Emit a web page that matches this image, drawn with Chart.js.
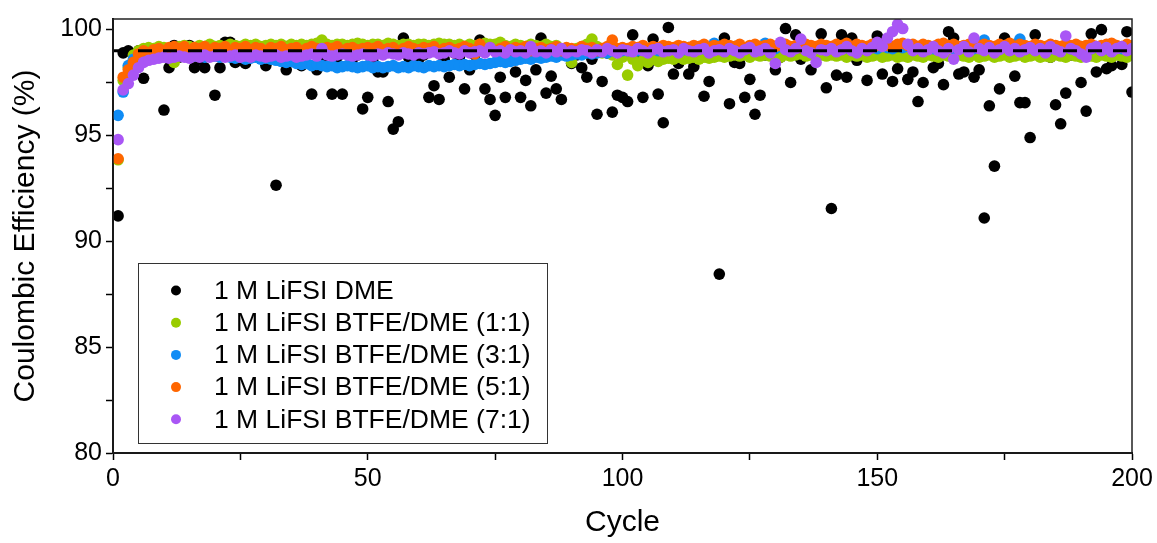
<!DOCTYPE html>
<html>
<head>
<meta charset="utf-8">
<script src="https://cdn.jsdelivr.net/npm/chart.js@4.4.1/dist/chart.umd.min.js"></script>
<style>
  body { margin: 0; background: #fff; }
  #wrap { width: 1157px; height: 543px; }
</style>
</head>
<body>
<div id="wrap"><canvas id="chart" width="1157" height="543"></canvas></div>
<script>
//=============== DATA ===============
const cycles = Array.from({ length: 200 }, (_, i) => i + 1)

const seriesNames = [
  '1 M LiFSI DME',
  '1 M LiFSI BTFE/DME (1:1)',
  '1 M LiFSI BTFE/DME (3:1)',
  '1 M LiFSI BTFE/DME (5:1)',
  '1 M LiFSI BTFE/DME (7:1)'
]
const seriesColors = ['#000000', '#99CC00', '#0F8CF5', '#FF6600', '#A956F5']

const dme = [
  91.2, 98.9, 99.0, 98.8, 99.0, 97.7, 98.9, 99.0, 98.7, 96.2,
  98.2, 99.25, 98.7, 98.9, 99.25, 98.2, 98.6, 98.2, 98.8, 96.9,
  98.2, 99.4, 99.4, 98.45, 98.9, 98.4, 98.7, 98.9, 99.15, 98.3,
  98.8, 92.65, 99.25, 98.1, 98.7, 98.9, 98.3, 98.8, 96.95, 98.1,
  98.6, 98.9, 96.95, 98.7, 96.95, 98.9, 98.6, 98.8, 96.25, 96.8,
  98.5, 98.0, 98.0, 96.6, 95.3, 95.65, 99.6, 98.7, 98.9, 98.6,
  98.8, 96.8, 97.35, 96.7, 98.6, 97.75, 98.9, 98.7, 97.2, 98.1,
  98.8, 99.5, 97.2, 96.7, 95.95, 97.75, 96.8, 98.8, 98.0, 96.8,
  97.6, 96.4, 98.1, 99.6, 97.0, 97.8, 97.2, 96.7, 98.9, 98.4,
  98.8, 98.2, 97.75, 98.6, 96.0, 97.55, 98.9, 96.1, 96.9, 96.8,
  96.6, 99.75, 98.8, 96.8, 98.3, 99.55, 96.95, 95.6, 100.1, 97.9,
  98.4, 98.9, 97.9, 98.25, 98.7, 96.85, 97.55, 98.9, 88.45, 99.6,
  96.5, 98.45, 98.4, 96.8, 97.65, 96.0, 96.9, 98.8, 98.9, 98.1,
  98.7, 100.05, 97.5, 99.75, 98.6, 98.9, 98.1, 98.7, 99.8, 97.25,
  91.55, 97.85, 99.75, 97.75, 99.6, 98.55, 98.9, 97.6, 98.8, 99.7,
  97.9, 98.9, 97.55, 98.15, 98.8, 97.65, 98.0, 96.6, 97.5, 98.9,
  98.2, 98.4, 97.4, 99.9, 99.6, 97.9, 98.0, 98.9, 97.75, 98.1,
  91.1, 96.4, 93.55, 97.2, 99.6, 98.9, 97.8, 96.55, 96.55, 94.9,
  99.75, 98.8, 98.9, 98.7, 96.45, 95.55, 97.0, 98.8, 98.9, 97.5,
  96.15, 99.8, 98.0, 100.0, 98.15, 98.3, 98.9, 98.35, 99.9, 97.05
]

const btfe11 = [
  93.85, 97.6, 98.2, 98.8, 99.0, 99.1, 99.15, 99.1, 99.2, 99.15,
  98.9, 98.45, 99.2, 99.25, 99.2, 99.15, 99.25, 99.2, 99.3, 99.2,
  99.25, 99.2, 99.3, 99.25, 99.2, 99.3, 99.25, 99.3, 99.2, 99.25,
  99.3, 99.25, 99.3, 99.2, 99.3, 99.25, 99.3, 99.25, 99.3, 99.35,
  99.5, 99.3, 99.25, 99.3, 99.3, 99.25, 99.3, 99.35, 99.3, 99.25,
  99.3, 99.3, 99.25, 99.35, 99.3, 99.25, 99.3, 99.3, 99.25, 99.3,
  99.3, 99.25, 99.3, 99.35, 99.3, 99.3, 99.25, 99.3, 99.2, 99.3,
  99.25, 99.3, 99.35, 99.3, 99.3, 99.4, 99.25, 99.2, 99.3, 99.25,
  99.2, 99.3, 99.25, 99.2, 99.3, 99.2, 99.25, 99.1, 98.9, 98.45,
  99.1, 99.2, 99.3, 99.55, 99.2, 98.9, 99.0, 98.8, 98.35, 98.7,
  97.85, 98.6, 98.3, 98.55, 98.45, 98.6, 98.5, 98.6, 98.65, 98.6,
  98.7, 98.6, 98.65, 98.7, 98.6, 98.7, 98.65, 98.7, 98.75, 98.7,
  98.75, 98.8, 98.75, 98.8, 98.7, 98.8, 98.75, 98.8, 98.75, 98.8,
  98.7, 98.8, 98.75, 98.8, 98.85, 98.75, 98.8, 98.7, 98.8, 98.75,
  98.8, 98.75, 98.8, 98.7, 98.8, 98.75, 98.8, 98.7, 98.75, 98.8,
  98.7, 98.75, 98.8, 98.7, 98.75, 98.7, 98.8, 98.75, 98.7, 98.8,
  98.75, 98.7, 98.8, 98.75, 98.7, 98.8, 98.75, 98.7, 98.8, 98.7,
  98.75, 98.8, 98.7, 98.75, 98.8, 98.7, 98.75, 98.8, 98.7, 98.75,
  98.8, 98.7, 98.75, 98.7, 98.8, 98.75, 98.7, 98.8, 98.75, 98.7,
  98.8, 98.75, 98.7, 98.8, 98.75, 98.7, 98.8, 98.75, 98.7, 98.8
]

const btfe31 = [
  95.95, 97.05, 98.3, 98.6, 98.7, 98.8, 98.75, 98.8, 98.85, 98.8,
  98.8, 98.75, 98.8, 98.85, 98.8, 98.75, 98.8, 98.7, 98.8, 98.75,
  98.7, 98.75, 98.7, 98.65, 98.7, 98.6, 98.65, 98.7, 98.6, 98.65,
  98.6, 98.55, 98.5, 98.45, 98.5, 98.4, 98.35, 98.4, 98.3, 98.35,
  98.3, 98.25, 98.3, 98.2, 98.25, 98.3, 98.25, 98.2, 98.25, 98.3,
  98.2, 98.25, 98.2, 98.25, 98.3, 98.2, 98.25, 98.2, 98.3, 98.25,
  98.2, 98.3, 98.25, 98.3, 98.25, 98.3, 98.35, 98.3, 98.35, 98.3,
  98.35, 98.4, 98.35, 98.4, 98.45, 98.5, 98.45, 98.5, 98.55, 98.6,
  98.65, 98.6, 98.7, 98.65, 98.7, 98.75, 98.7, 98.8, 98.75, 98.8,
  98.85, 98.8, 98.9, 98.85, 98.9, 98.95, 98.9, 99.0, 98.95, 99.0,
  99.0, 99.05, 99.0, 99.1, 99.05, 99.1, 99.0, 99.1, 99.05, 99.1,
  99.1, 99.05, 99.15, 99.1, 99.2, 99.1, 99.15, 99.35, 99.1, 99.15,
  99.1, 99.2, 99.15, 99.1, 99.2, 99.15, 99.1, 99.35, 99.15, 99.1,
  99.2, 99.15, 99.1, 99.2, 99.15, 99.1, 99.2, 99.15, 99.2, 99.1,
  99.15, 99.2, 99.1, 99.15, 99.2, 99.1, 99.15, 99.2, 99.15, 99.1,
  99.2, 99.15, 99.1, 99.2, 99.15, 99.2, 99.1, 99.15, 99.2, 99.15,
  99.1, 99.2, 99.15, 99.2, 99.1, 99.15, 99.2, 99.15, 99.1, 99.2,
  99.5, 99.2, 99.1, 99.15, 99.2, 99.15, 99.3, 99.55, 99.2, 99.15,
  99.1, 99.2, 99.15, 99.1, 99.2, 99.15, 99.2, 99.1, 99.15, 99.2,
  99.15, 99.1, 99.2, 99.15, 99.1, 99.2, 99.15, 99.1, 99.2, 99.15
]

const btfe51 = [
  93.9, 97.75, 98.1, 98.45, 98.85, 99.0, 98.9, 99.05, 99.1, 99.0,
  99.15, 99.2, 99.1, 99.2, 99.0, 99.15, 99.1, 99.2, 99.05, 99.15,
  99.1, 99.2, 99.0, 99.15, 99.1, 99.2, 99.05, 99.15, 99.1, 99.0,
  99.15, 99.1, 99.2, 99.05, 99.1, 99.15, 99.0, 99.1, 99.2, 99.1,
  99.05, 99.15, 99.1, 99.2, 99.0, 99.1, 99.15, 99.05, 99.1, 99.15,
  99.1, 99.2, 99.05, 99.1, 99.15, 99.0, 99.1, 99.2, 99.1, 99.05,
  99.15, 99.1, 99.2, 99.0, 99.1, 99.15, 99.05, 99.1, 99.2, 99.1,
  98.85, 99.3, 99.1, 99.15, 99.0, 99.1, 99.2, 99.05, 99.15, 99.1,
  99.2, 99.0, 99.1, 99.15, 99.05, 99.1, 99.2, 99.0, 99.15, 99.1,
  99.05, 99.2, 99.1, 99.15, 99.0, 99.1, 99.2, 99.5, 99.1, 99.15,
  99.1, 99.2, 99.15, 99.25, 99.1, 99.2, 99.15, 99.25, 99.2, 99.15,
  99.25, 99.2, 99.15, 99.25, 99.2, 99.3, 99.15, 99.25, 99.2, 99.3,
  99.25, 99.2, 99.3, 99.15, 99.25, 99.3, 99.2, 99.25, 99.3, 99.2,
  99.25, 99.3, 99.2, 99.25, 99.15, 99.3, 99.25, 99.2, 99.3, 99.25,
  99.2, 99.3, 99.25, 99.35, 99.2, 99.3, 99.25, 99.2, 99.3, 99.25,
  99.3, 99.25, 99.2, 99.3, 99.35, 99.25, 99.3, 99.2, 99.3, 99.25,
  99.2, 99.3, 99.35, 99.25, 99.3, 99.2, 99.25, 99.3, 99.2, 99.25,
  99.3, 99.25, 99.2, 99.3, 99.25, 99.35, 99.2, 99.3, 99.25, 99.2,
  99.3, 99.25, 99.2, 99.3, 99.25, 99.2, 99.3, 99.25, 99.3, 99.2,
  99.25, 99.3, 99.2, 99.25, 99.3, 99.35, 99.25, 99.2, 99.3, 99.25
]

const btfe71 = [
  94.8, 97.15, 97.45, 97.85, 98.2, 98.45, 98.55, 98.6, 98.65, 98.7,
  98.65, 98.7, 98.75, 98.7, 98.65, 98.75, 98.7, 98.8, 98.7, 98.75,
  98.8, 98.7, 98.75, 98.8, 98.7, 98.75, 98.7, 98.8, 98.75, 98.7,
  98.75, 98.8, 98.7, 98.75, 98.8, 98.7, 98.75, 98.8, 98.85, 98.75,
  99.1, 98.8, 98.75, 98.8, 98.85, 98.8, 98.75, 98.8, 98.85, 98.8,
  98.75, 98.85, 98.8, 98.9, 98.85, 98.8, 98.9, 98.85, 98.8, 98.9,
  98.85, 98.9, 98.95, 98.85, 98.9, 99.0, 98.9, 98.85, 99.0, 98.9,
  98.95, 99.0, 98.9, 99.15, 98.95, 99.0, 98.9, 99.05, 98.95, 99.0,
  98.9, 99.2, 98.95, 99.0, 98.9, 99.05, 98.95, 99.1, 98.9, 99.0,
  98.95, 99.05, 99.0, 98.9, 99.05, 98.95, 99.1, 99.0, 98.9, 99.05,
  99.0, 98.95, 99.1, 99.0, 98.9, 99.05, 99.1, 98.95, 99.0, 99.05,
  98.9, 99.1, 99.0, 98.95, 99.05, 99.1, 98.9, 99.0, 99.05, 98.95,
  99.1, 99.0, 98.9, 99.05, 99.15, 98.95, 99.0, 99.1, 98.9, 98.4,
  99.4, 99.05, 98.95, 99.1, 99.55, 99.0, 98.9, 98.45, 99.05, 99.0,
  99.1, 98.95, 99.05, 99.2, 99.0, 98.9, 99.1, 99.0, 99.15, 99.4,
  99.2, 99.6, 99.9, 100.25, 100.05, 99.3, 99.0, 99.1, 98.95, 99.05,
  99.2, 99.0, 98.9, 99.1, 98.6, 99.05, 99.2, 98.95, 99.6, 99.1,
  99.0, 99.15, 98.9, 99.05, 99.2, 99.0, 99.1, 98.95, 99.05, 99.15,
  99.0, 99.1, 98.9, 99.2, 99.05, 98.95, 99.7, 99.1, 99.0, 98.85,
  98.7, 99.1, 99.2, 99.0, 99.15, 98.95, 99.1, 99.2, 99.0, 99.1
]

const seriesValues = [dme, btfe11, btfe31, btfe51, btfe71]

// dashed reference line and axis ticks
const refLine = 99
const xRange = [0, 200]
const yRange = [80, 100.5]
const xTicks = [0, 25, 50, 75, 100, 125, 150, 175, 200]
const xLabels = [0, 50, 100, 150, 200]
const yTicks = [80, 82.5, 85, 87.5, 90, 92.5, 95, 97.5, 100]
const yLabels = [80, 85, 90, 95, 100]

const FONT = 'Arial, "Liberation Sans", sans-serif'

//=============== DATASETS ===============
const datasets = seriesValues.map((vals, i) => ({
  type: 'scatter',
  label: seriesNames[i],
  data: vals.map((v, k) => ({ x: cycles[k], y: v })),
  backgroundColor: seriesColors[i],
  borderColor: seriesColors[i],
  borderWidth: 0,
  pointRadius: 5.8,
  order: seriesValues.length - i
}))

datasets.push({
  type: 'line',
  label: 'ref',
  data: [{ x: xRange[0], y: refLine }, { x: xRange[1], y: refLine }],
  borderColor: '#000',
  borderWidth: 3,
  borderDash: [14, 11],
  pointRadius: 0,
  order: 0
})

//=============== PLUGINS: FRAME AND LEGEND BOX ===============
const frame = {
  id: 'frame',
  afterDraw(chart) {
    const { ctx, chartArea: a } = chart
    ctx.save()
    ctx.strokeStyle = '#222'
    ctx.lineWidth = 1.5
    ctx.strokeRect(a.left, a.top, a.right - a.left, a.bottom - a.top)
    ctx.restore()
  }
}

const legendBox = {
  id: 'legendBox',
  afterDraw(chart) {
    const ctx = chart.ctx
    ctx.save()
    ctx.fillStyle = '#fff'
    ctx.fillRect(138, 263, 409, 180)
    ctx.strokeStyle = '#333'
    ctx.lineWidth = 1
    ctx.strokeRect(138.5, 263.5, 409, 180)
    ctx.font = '26.5px ' + FONT
    ctx.textBaseline = 'middle'
    seriesNames.forEach((name, i) => {
      const y = 290.5 + i * 32.2
      ctx.fillStyle = seriesColors[i]
      ctx.beginPath()
      ctx.arc(176, y, 5, 0, Math.PI * 2)
      ctx.fill()
      ctx.fillStyle = '#000'
      ctx.fillText(name, 214, y + 1)
    })
    ctx.restore()
  }
}

//=============== CHART ===============
const ctx = document.querySelector('#chart').getContext('2d')
const chart = new Chart(ctx, {
  data: { datasets: datasets },
  options: {
    responsive: false,
    animation: false,
    layout: { padding: { top: 13, right: 25, left: 0, bottom: 0 } },
    plugins: {
      legend: { display: false },
      tooltip: { enabled: false }
    },
    scales: {
      x: {
        type: 'linear',
        min: xRange[0],
        max: xRange[1],
        afterBuildTicks: (scale) => { scale.ticks = xTicks.map(v => ({ value: v })) },
        afterFit: (scale) => { scale.height = 90 },
        grid: { drawOnChartArea: false, tickLength: 7, tickColor: '#000', tickWidth: 1.5 },
        border: { color: '#000', width: 2 },
        ticks: {
          color: '#000',
          font: { family: FONT, size: 25 },
          padding: 4,
          maxRotation: 0,
          autoSkip: false,
          callback: (v) => xLabels.includes(v) ? String(v) : ''
        },
        title: {
          display: true,
          text: 'Cycle',
          color: '#000',
          font: { family: FONT, size: 30 },
          padding: { top: 0, bottom: 2 }
        }
      },
      y: {
        type: 'linear',
        min: yRange[0],
        max: yRange[1],
        afterBuildTicks: (scale) => { scale.ticks = yTicks.map(v => ({ value: v })) },
        afterFit: (scale) => { scale.width = 113 },
        grid: { drawOnChartArea: false, tickLength: 7, tickColor: '#000', tickWidth: 1.5 },
        border: { color: '#000', width: 2 },
        ticks: {
          color: '#000',
          font: { family: FONT, size: 25 },
          padding: 4,
          autoSkip: false,
          callback: (v) => yLabels.includes(v) ? String(v) : ''
        },
        title: {
          display: true,
          text: 'Coulombic Efficiency (%)',
          color: '#000',
          font: { family: FONT, size: 30 },
          padding: { top: 8, bottom: 0 }
        }
      }
    }
  },
  plugins: [frame, legendBox]
})
</script>
</body>
</html>
